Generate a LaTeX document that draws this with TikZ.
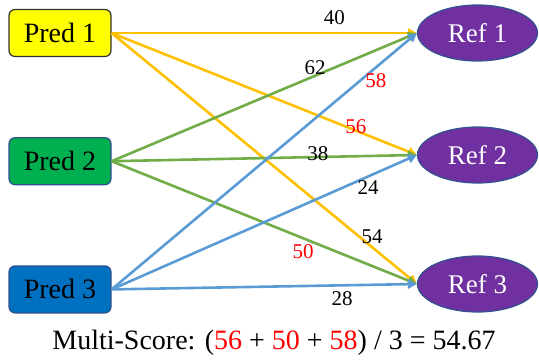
\documentclass[tikz,border=0pt]{standalone}
\usepackage{fontspec}
\setmainfont{Liberation Serif}
\newfontfamily\timesfont{Liberation Serif}
\usetikzlibrary{arrows.meta,positioning,shapes.geometric}
\definecolor{predyellow}{RGB}{255,255,0}
\definecolor{predgreen}{RGB}{0,176,80}
\definecolor{predblue}{RGB}{0,112,192}
\definecolor{refpurple}{RGB}{112,48,160}
\definecolor{edgeblue}{RGB}{47,82,143}
\definecolor{lnyellow}{RGB}{255,192,0}
\definecolor{lngreen}{RGB}{112,173,71}
\definecolor{lnblue}{RGB}{91,155,213}

\begin{document}
\begin{tikzpicture}[
    x=1pt, y=-1pt,
    node distance=80pt and 0pt,
    pred/.style={rectangle, draw=edgeblue, line width=1.2pt, rounded corners=6pt, minimum width=102pt, minimum height=47pt, align=center, font=\timesfont\fontsize{28}{30}\selectfont},
    ref/.style={ellipse, draw=edgeblue, line width=1.2pt, fill=refpurple, text=white, minimum width=120pt, minimum height=56pt, inner sep=0pt, font=\timesfont\fontsize{27}{29}\selectfont},
    link/.style={line width=2.6pt, -{Triangle[length=9pt,width=9pt]}},
    score/.style={font=\timesfont\fontsize{21}{23}\selectfont, inner sep=0pt, text=black}
  ]
    \useasboundingbox (0,0) rectangle (539,362);
    % predictions
    \node[pred, fill=predyellow, draw=black!80] at (60,33) (p1) {Pred 1};
    \node[pred, fill=predgreen, below=of p1] (p2) {Pred 2};
    \node[pred, fill=predblue, below=of p2] (p3) {Pred 3};
    % references
    \node[ref] at (477.5,33) (r1) {Ref 1};
    \node[ref] at (477.5,155) (r2) {Ref 2};
    \node[ref] at (477.5,284) (r3) {Ref 3};
    % matches from pred 1
    \draw[link, lnyellow] (p1.east) -- (r1.west) node[score, pos=0.73, yshift=15pt] {40};
    \draw[link, lnyellow] (p1.east) -- (r2.west) node[score, pos=0.80, yshift=4pt, text=red] {56};
    \draw[link, lnyellow] (p1.east) -- (r3.west) node[score, pos=0.853, yshift=10pt] {54};
    % matches from pred 2
    \draw[link, lngreen] (p2.east) -- (r1.west) node[score, pos=0.667, yshift=8pt] {62};
    \draw[link, lngreen] (p2.east) -- (r2.west) node[score, pos=0.676, yshift=3pt] {38};
    \draw[link, lngreen] (p2.east) -- (r3.west) node[score, pos=0.627, yshift=-13pt, text=red] {50};
    % matches from pred 3
    \draw[link, lnblue] (p3.east) -- (r1.west) node[score, pos=0.866, yshift=-13pt, text=red] {58};
    \draw[link, lnblue] (p3.east) -- (r2.west) node[score, pos=0.84, yshift=-11pt] {24};
    \draw[link, lnblue] (p3.east) -- (r3.west) node[score, pos=0.755, yshift=-13pt] {28};
    % result
    \node[font=\timesfont\fontsize{28}{30}\selectfont] at (274,343) (total) {Multi-Score: (\textcolor{red}{56} + \textcolor{red}{50} + \textcolor{red}{58}) / 3 = 54.67};
  \end{tikzpicture}
\end{document}
